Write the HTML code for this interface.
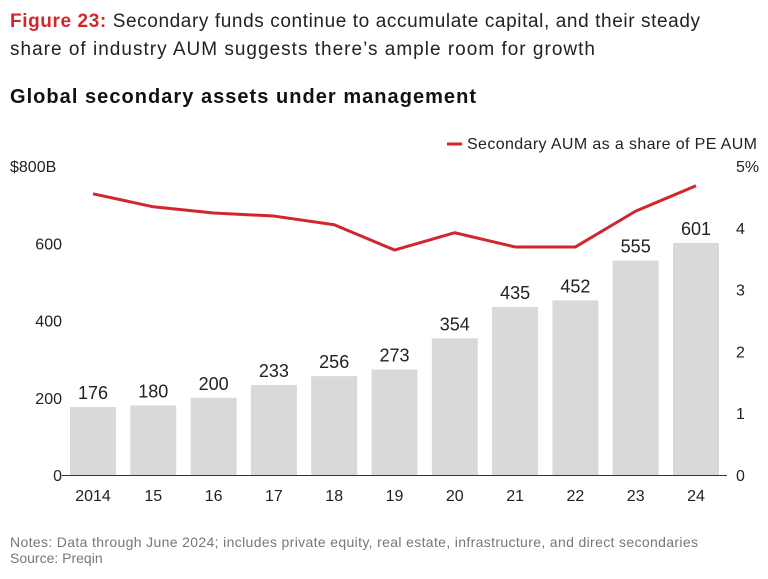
<!DOCTYPE html>
<html><head><meta charset="utf-8"><style>
body{margin:0;background:#fff;font-family:"Liberation Sans",sans-serif;}
svg text{font-family:"Liberation Sans",sans-serif;}
</style></head><body>
<svg width="768" height="574">
<text x="10" y="27" font-size="19" fill="#222" textLength="690" lengthAdjust="spacing"><tspan fill="#d3262c" font-weight="bold">Figure 23:</tspan> Secondary funds continue to accumulate capital, and their steady</text>
<text x="10" y="55" font-size="19" fill="#222" textLength="585" lengthAdjust="spacing">share of industry AUM suggests there’s ample room for growth</text>
<text x="10" y="103" font-size="20" font-weight="bold" fill="#111" textLength="466" lengthAdjust="spacing">Global secondary assets under management</text>
<line x1="447" y1="144" x2="462" y2="144" stroke="#d3262c" stroke-width="3"/>
<text x="467" y="149" font-size="16" fill="#222" textLength="290" lengthAdjust="spacing">Secondary AUM as a share of PE AUM</text>
<g id="g"></g>
<text x="10" y="547" font-size="14" fill="#777" textLength="688" lengthAdjust="spacing">Notes: Data through June 2024; includes private equity, real estate, infrastructure, and direct secondaries</text>
<text x="10" y="563" font-size="14" fill="#777">Source: Preqin</text>
</svg>
<script>
const categories=["2014","15","16","17","18","19","20","21","22","23","24"];
const aum=[176,180,200,233,256,273,354,435,452,555,601];
const share=[4.55,4.34,4.24,4.19,4.05,3.64,3.92,3.69,3.69,4.27,4.68];
const leftTicks=[0,200,400,600,800];
const rightTicks=[0,1,2,3,4,5];
const NS="http://www.w3.org/2000/svg";
const g=document.getElementById('g');
const y0=475,yTop=166;
const yL=v=>y0-(v/800)*(y0-yTop);
const yR=v=>y0-(v/5)*(y0-yTop);
const xC=i=>93+i*60.3;
function mk(t,a,txt){const e=document.createElementNS(NS,t);for(const k in a)e.setAttribute(k,a[k]);if(txt!=null)e.textContent=txt;g.appendChild(e);return e;}
leftTicks.forEach(v=>{const e=mk('text',{x:v===800?10:62,y:yL(v)+6,'font-size':16,fill:'#222','text-anchor':v===800?'start':'end'},v===800?'$800B':String(v));

});
rightTicks.forEach(v=>{const e=mk('text',{x:736,y:yR(v)+6,'font-size':16,fill:'#222'},v===5?'5%':String(v));

});
aum.forEach((v,i)=>{const r=mk('rect',{x:xC(i)-23,y:yL(v),width:46,height:y0-yL(v),fill:'#d9d9d9'});


const t=mk('text',{x:xC(i),y:yL(v)-8,'font-size':18,fill:'#222','text-anchor':'middle'},String(v));


const c=mk('text',{x:xC(i),y:501,'font-size':16,fill:'#222','text-anchor':'middle'},categories[i]);

});
const ax=mk('line',{x1:62,x2:727,y1:y0+0.5,y2:y0+0.5,stroke:'#333','stroke-width':1});


const ln=mk('polyline',{points:share.map((v,i)=>xC(i)+','+yR(v)).join(' '),fill:'none',stroke:'#d3262c','stroke-width':3,'stroke-linejoin':'round'});


</script>
</body></html>
